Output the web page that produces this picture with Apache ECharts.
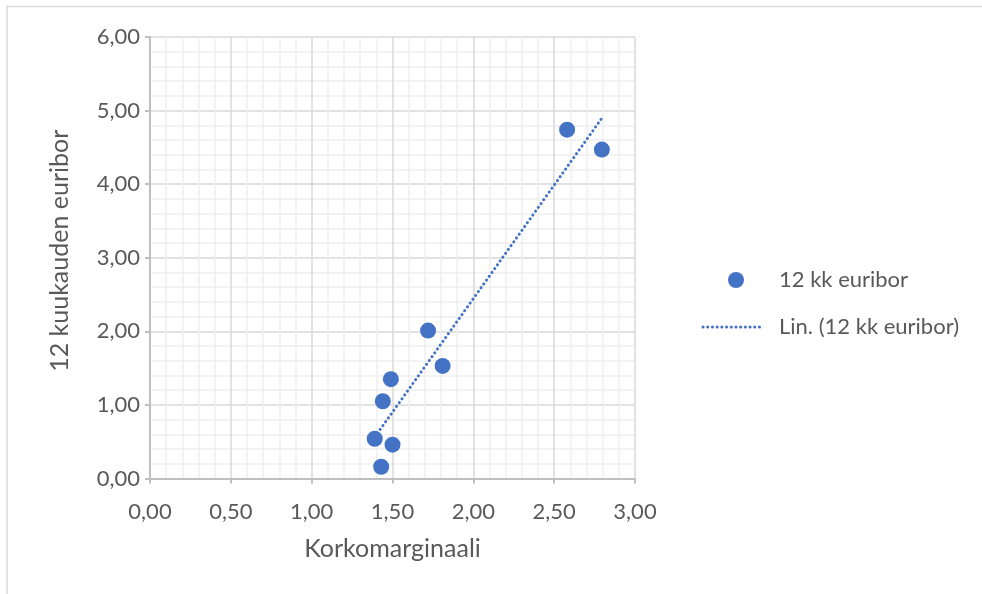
<!DOCTYPE html>
<html>
<head>
<meta charset="utf-8">
<script src="https://cdn.jsdelivr.net/npm/echarts@6/dist/echarts.min.js"></script>
<style>
  html, body { margin: 0; padding: 0; background: #fff; }
  #chart { width: 982px; height: 594px; }
</style>
</head>
<body>
<div id="chart"></div>
<script>
// Interest margin (x) vs. 12-month euribor (y)
const korkomarginaali = [2.58, 2.795, 1.72, 1.81, 1.49, 1.44, 1.39, 1.50, 1.43];
const euribor12 = [4.74, 4.47, 2.01, 1.53, 1.35, 1.05, 0.54, 0.46, 0.16];
const xTicks = ['0,00', '0,50', '1,00', '1,50', '2,00', '2,50', '3,00'];
const yTicks = ['0,00', '1,00', '2,00', '3,00', '4,00', '5,00', '6,00'];
const seriesName = '12 kk euribor';
const trendName = 'Lin. (12 kk euribor)';

const FONT = 'Lato';
const TEXT = '#595959';
const BLUE = '#4472C4';

// Least-squares linear trend across the data's x range
const n = korkomarginaali.length;
const mx = korkomarginaali.reduce((a, b) => a + b, 0) / n;
const my = euribor12.reduce((a, b) => a + b, 0) / n;
let sxy = 0, sxx = 0;
for (let i = 0; i < n; i++) {
  sxy += (korkomarginaali[i] - mx) * (euribor12[i] - my);
  sxx += (korkomarginaali[i] - mx) ** 2;
}
const slope = sxy / sxx;
const icpt = my - slope * mx;
const xMin = Math.min(...korkomarginaali);
const xMax = Math.max(...korkomarginaali);
const trend = [[xMin, icpt + slope * xMin], [xMax, icpt + slope * xMax]];

const chart = echarts.init(document.getElementById('chart'), null, { renderer: 'canvas' });
chart.setOption({
  animation: false,
  backgroundColor: '#ffffff',
  grid: { left: 150, right: 347, top: 37, bottom: 115.5, containLabel: false },
  xAxis: {
    type: 'value', min: 0, max: 3, interval: 0.5,
    name: 'Korkomarginaali', nameLocation: 'middle', nameGap: 58,
    nameTextStyle: { fontFamily: FONT, fontSize: 25, color: TEXT },
    axisLine: { show: true, lineStyle: { color: '#bfbfbf', width: 2 } },
    axisTick: { show: true, length: 5, lineStyle: { color: '#bfbfbf', width: 2 } },
    axisLabel: { margin: 22, fontFamily: FONT, fontSize: 22, color: TEXT,
      formatter: (v) => xTicks[Math.round(v / 0.5)] },
    splitLine: { show: true, lineStyle: { color: '#d9d9d9', width: 1.5 } },
    minorTick: { show: false, splitNumber: 5 },
    minorSplitLine: { show: true, lineStyle: { color: '#f0f0f0', width: 1.5 } }
  },
  yAxis: {
    type: 'value', min: 0, max: 6, interval: 1,
    name: '12 kuukauden euribor', nameLocation: 'middle', nameGap: 78,
    nameTextStyle: { fontFamily: FONT, fontSize: 25, color: TEXT, padding: [0, 0, 0, 14] },
    axisLine: { show: true, lineStyle: { color: '#bfbfbf', width: 2 } },
    axisTick: { show: true, length: 5, lineStyle: { color: '#bfbfbf', width: 2 } },
    axisLabel: { margin: 10, fontFamily: FONT, fontSize: 22, color: TEXT,
      formatter: (v) => yTicks[Math.round(v)] },
    splitLine: { show: true, lineStyle: { color: '#d9d9d9', width: 1.5 } },
    minorTick: { show: false, splitNumber: 5 },
    minorSplitLine: { show: true, lineStyle: { color: '#f0f0f0', width: 1.5 } }
  },
  series: [
    {
      name: trendName, type: 'line', data: trend, showSymbol: false, symbol: 'none',
      z: 3,
      lineStyle: { color: BLUE, width: 3, type: [0.1, 4.6], cap: 'round' }
    },
    {
      name: seriesName, type: 'scatter', symbol: 'circle', symbolSize: 16, z: 4,
      data: korkomarginaali.map((x, i) => [x, euribor12[i]]),
      itemStyle: { color: BLUE, opacity: 1 }
    }
  ],
  graphic: [
    // outer chart frame
    { type: 'rect', shape: { x: 7, y: 6.5, width: 1000, height: 1000 },
      style: { fill: 'none', stroke: '#d9d9d9', lineWidth: 1.5 }, silent: true },
    // legend
    { type: 'circle', shape: { cx: 736, cy: 280, r: 8 }, style: { fill: BLUE } },
    { type: 'text', x: 779, y: 280, style: { text: seriesName, fontFamily: FONT, fontSize: 22,
      fill: TEXT, verticalAlign: 'middle' } },
    { type: 'line', shape: { x1: 703, y1: 327, x2: 762, y2: 327 },
      style: { stroke: BLUE, lineWidth: 3, lineDash: [0.1, 4.6], lineCap: 'round' } },
    { type: 'text', x: 779, y: 327, style: { text: trendName, fontFamily: FONT, fontSize: 22,
      fill: TEXT, verticalAlign: 'middle' } }
  ]
});
</script>
</body>
</html>
